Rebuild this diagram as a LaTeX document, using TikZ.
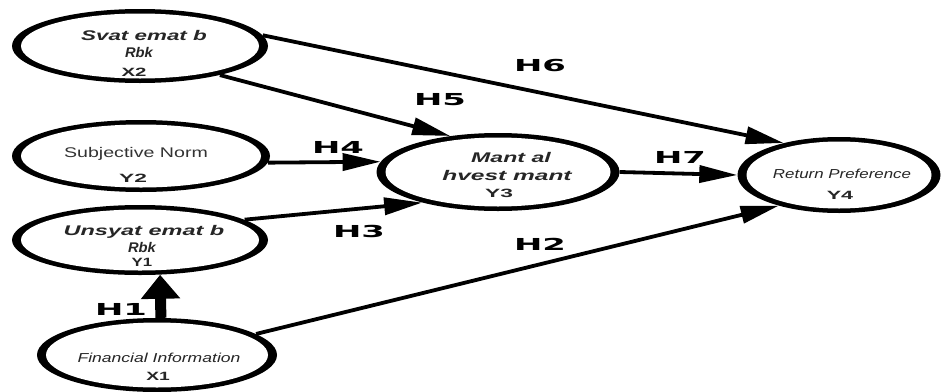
\documentclass[tikz,border=0pt]{standalone}
\usepackage{fontspec}
\usepackage{graphicx}
\setmainfont{Liberation Sans}
\newfontfamily\hfont{DejaVu Sans}
\usetikzlibrary{shapes.geometric,arrows.meta}
\newcommand\wdx[2]{\scalebox{#1}[1]{#2}}
\begin{document}
\begin{tikzpicture}[x=1pt,y=-1pt,
  lat/.style 2 args={ellipse,fill=black,inner sep=0pt,minimum width=#1,minimum height=#2,
    path picture={\fill[white] (path picture bounding box.center) ellipse [x radius={#1/2-9pt}, y radius={#2/2-4.5pt}];}},
  hyp/.style={draw=black,line width=3.8pt,-{Triangle[length=38pt,width=17pt]}},
  hlab/.style={font=\hfont\fontsize{16.5}{16.5}\selectfont\bfseries,inner sep=0pt},
  itx/.style={font=\fontsize{14}{14}\selectfont\itshape\bfseries,inner sep=0pt,text=black!85},
  rtx/.style={font=\fontsize{14}{14}\selectfont,inner sep=0pt,text=black!80},
  ftx/.style={font=\fontsize{13}{13}\selectfont\itshape,inner sep=0pt,text=black!85},
  ytx/.style={font=\fontsize{12}{12}\selectfont\bfseries,inner sep=0pt,text=black!85}]
\useasboundingbox (0,0) rectangle (941,391);
% latent variables
\node[lat={256pt}{74pt}] (x2) at (140,46) {};
\node[lat={258pt}{72pt}] (sn) at (141,156) {};
\node[lat={256pt}{70pt}] (y1) at (140,240) {};
\node[lat={240pt}{74pt}] (x1) at (157,355) {};
\node[lat={243pt}{78pt}] (y3) at (498,172) {};
\node[lat={203pt}{76pt}] (y4) at (839,175) {};
% texts
\node[itx] (x2a) at (144,35) {\wdx{1.6}{Svat emat b}};
\node[itx] (x2b) at (139,52) {\wdx{1.05}{Rbk}};
\node[ytx] (x2c) at (134,72) {\wdx{1.7}{X2}};
\node[rtx] (sna) at (136,154) {\wdx{1.4}{Subjective Norm}};
\node[ytx] (snb) at (133,178) {\wdx{1.9}{Y2}};
\node[itx] (y1a) at (144,232) {\wdx{1.68}{Unsyat emat b}};
\node[itx] (y1b) at (142,247) {\wdx{1.05}{Rbk}};
\node[ytx] (y1c) at (142,262) {\wdx{1.4}{Y1}};
\node[ftx] (x1a) at (159,358) {\wdx{1.35}{Financial Information}};
\node[ytx] (x1b) at (158,376) {\wdx{1.6}{X1}};
\node[itx] (y3a) at (511,157) {\wdx{1.65}{Mant al}};
\node[itx] (y3b) at (507,175) {\wdx{1.75}{hvest mant}};
\node[ytx] (y3c) at (499,193) {\wdx{1.9}{Y3}};
\node[ftx] (y4a) at (842,174) {\wdx{1.3}{Return Preference}};
\node[ytx] (y4b) at (840,195) {\wdx{1.8}{Y4}};
% hypotheses
\draw[hyp] (x2.5) -- (y4.150);
\draw[hyp] (x2.-20) -- (y3.143);
\draw[hyp] (sn.-3) -- (y3.175.5);
\draw[hyp] (y1.11) -- (y3.202);
\draw[hyp] (y3.east) -- (y4.west);
\draw[hyp] (x1.12) -- (y4.207);
\draw[draw=black,line width=11pt,-{Triangle[length=24pt,width=38pt]}] (x1.84) -- (y1.-60);
% labels
\node[hlab] (h1) at (121,309) {\wdx{2.05}{H1}};
\node[hlab] (h2) at (540,244) {\wdx{2.05}{H2}};
\node[hlab] (h3) at (359,231) {\wdx{2.05}{H3}};
\node[hlab] (h4) at (338,147) {\wdx{2.05}{H4}};
\node[hlab] (h5) at (440,100) {\wdx{2.05}{H5}};
\node[hlab] (h6) at (540,65) {\wdx{2.05}{H6}};
\node[hlab] (h7) at (680,157) {\wdx{2.05}{H7}};
\end{tikzpicture}
\end{document}
